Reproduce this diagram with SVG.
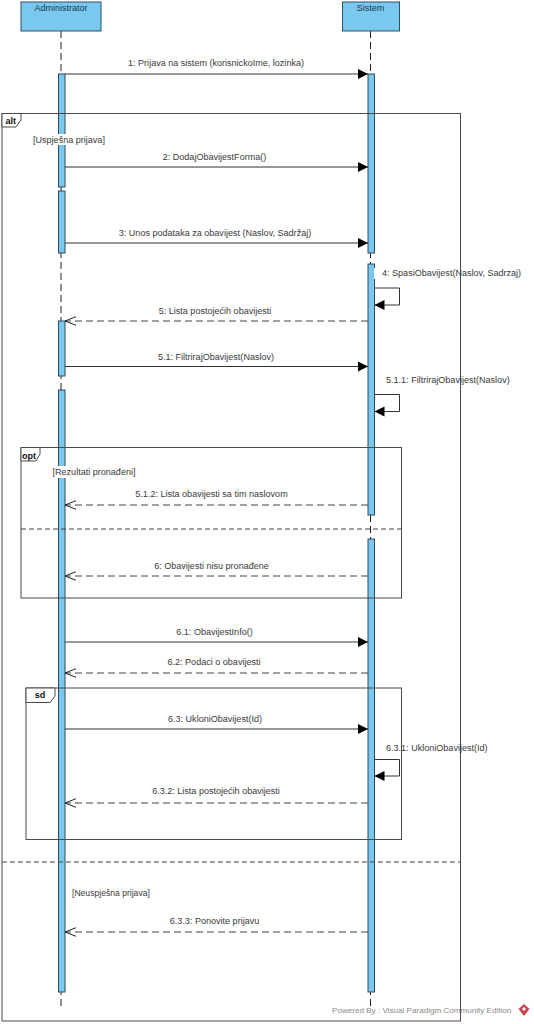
<svg xmlns="http://www.w3.org/2000/svg" width="534" height="1024" viewBox="0 0 534 1024">
<defs>
<marker id="solid" markerUnits="userSpaceOnUse" markerWidth="11" markerHeight="11" refX="10" refY="5.5" orient="auto"><path d="M0 0.500L10 5.500L0 10.500Z" fill="#000"/></marker>
<marker id="open" markerUnits="userSpaceOnUse" markerWidth="12" markerHeight="12" refX="11" refY="6" orient="auto"><path d="M0 1.700L11 6L0 10.300" fill="none" stroke="#222" stroke-width="1"/></marker>
</defs>
<style>
text{font-family:"Liberation Sans",Arial,sans-serif;font-size:9.05px;fill:#3a3a3a}
.c{text-anchor:middle}
.head{fill:#7ac8ee;stroke:#2c5068;stroke-width:1}
.act{fill:#7ac8ee;stroke:#2c4a60;stroke-width:1}
.life{stroke:#222;stroke-width:1;stroke-dasharray:7 4;fill:none}
.frame{fill:none;stroke:#4a4a4a;stroke-width:1}
.tab{fill:#fff;stroke:#4a4a4a;stroke-width:1}
.sep{stroke:#444;stroke-width:1;stroke-dasharray:5 3;fill:none}
.msg{stroke:#333;stroke-width:1;fill:none;marker-end:url(#solid)}
.ret{stroke:#444;stroke-width:1;stroke-dasharray:7 4;fill:none;marker-end:url(#open)}
.bg{fill:#fff}
.ft{font-weight:bold;fill:#111}
.name{fill:#16394f;font-size:9px}
.wm{fill:#8a8a8a;font-size:8.1px}
.small{font-size:8.6px}
</style>
<g id="lifelines">
<line class="life" x1="61" y1="31" x2="61" y2="1010"/>
<line class="life" x1="370.5" y1="31" x2="370.5" y2="1010"/>
</g>
<g id="node-administrator"><rect class="head" x="21" y="2" width="80" height="29"/><text class="c name" x="61" y="11">Administrator</text></g>
<g id="node-sistem"><rect class="head" x="342.5" y="2" width="57" height="29"/><text class="c name" x="370.5" y="11">Sistem</text></g>
<g id="activations">
<rect class="act" x="58.5" y="74" width="6.5" height="113"/>
<rect class="act" x="58.5" y="191" width="6.5" height="62"/>
<rect class="act" x="58.5" y="321" width="6.5" height="55"/>
<rect class="act" x="58.5" y="390" width="6.5" height="602"/>
<rect class="act" x="368" y="74" width="6.5" height="179"/>
<rect class="act" x="368" y="264" width="6.5" height="251"/>
<rect class="act" x="368" y="539" width="6.5" height="453"/>
</g>
<g id="frame-alt">
<rect class="frame" x="2" y="113.5" width="458.5" height="907.5"/>
<path class="tab" d="M2 113.5H21V120L16 127H2Z"/>
<text class="ft" x="5.500" y="124">alt</text>
<line class="sep" x1="2" y1="862" x2="460" y2="862"/>
<rect class="bg" x="33" y="134" width="73" height="11"/>
<text x="33" y="143">[Uspješna prijava]</text>
<rect class="bg" x="71" y="888" width="80" height="10"/>
<text class="small" x="72" y="896">[Neuspješna prijava]</text>
</g>
<g id="frame-opt">
<rect class="frame" x="21" y="447.500" width="380.500" height="150.500"/>
<path class="tab" d="M21 447.500H40V454L36 461H21Z"/>
<text class="ft" x="22" y="459">opt</text>
<line class="sep" x1="21" y1="529" x2="401" y2="529"/>
<rect class="bg" x="52" y="466" width="84" height="12"/>
<text x="52.500" y="475">[Rezultati pronađeni]</text>
</g>
<g id="frame-sd">
<rect class="frame" x="26" y="688" width="375.500" height="151.500"/>
<path class="tab" d="M26 688H55V696L50 702.500H26Z"/>
<text class="ft c" x="40" y="698">sd</text>
</g>
<g id="connectors">
<line class="msg" x1="65" y1="74" x2="368" y2="74"/>
<line class="msg" x1="65" y1="167" x2="368" y2="167"/>
<line class="msg" x1="65" y1="243" x2="368" y2="243"/>
<path class="msg" d="M374.500 288H399.500V305H374.500"/>
<line class="ret" x1="368" y1="321" x2="65" y2="321"/>
<line class="msg" x1="65" y1="366.500" x2="368" y2="366.500"/>
<path class="msg" d="M374.500 394.500H399.500V411.500H374.500"/>
<line class="ret" x1="368" y1="505" x2="65" y2="505"/>
<line class="ret" x1="368" y1="576" x2="65" y2="576"/>
<line class="msg" x1="65" y1="642" x2="368" y2="642"/>
<line class="ret" x1="368" y1="673" x2="65" y2="673"/>
<line class="msg" x1="65" y1="729" x2="368" y2="729"/>
<path class="msg" d="M374.500 759.500H399.500V776H374.500"/>
<line class="ret" x1="368" y1="803" x2="65" y2="803"/>
<line class="ret" x1="368" y1="932" x2="65" y2="932"/>
</g>
<g id="labels">
<text class="c" x="216" y="66">1: Prijava na sistem (korisnickoIme, lozinka)</text>
<text class="c" x="214.500" y="160">2: DodajObavijestForma()</text>
<text class="c" x="215" y="236">3: Unos podataka za obavijest (Naslov, Sadržaj)</text>
<rect class="bg" x="374" y="268" width="20" height="11"/>
<text x="382" y="276">4: SpasiObavijest(Naslov, Sadrzaj)</text>
<text class="c" x="215" y="314">5: Lista postojećih obavijesti</text>
<text class="c" x="216" y="360">5.1: FiltrirajObavijest(Naslov)</text>
<text x="386" y="383">5.1.1: FiltrirajObavijest(Naslov)</text>
<text class="c" x="211.500" y="497">5.1.2: Lista obavijesti sa tim naslovom</text>
<text class="c" x="211.500" y="569">6: Obavijesti nisu pronađene</text>
<text class="c" x="214.500" y="635">6.1: ObavijestInfo()</text>
<text class="c" x="214" y="665">6.2: Podaci o obavijesti</text>
<text class="c" x="215" y="722">6.3: UkloniObavijest(Id)</text>
<text x="386" y="751">6.3.1: UkloniObavijest(Id)</text>
<text class="c" x="216" y="794">6.3.2: Lista postojećih obavijesti</text>
<text class="c" x="214.500" y="924">6.3.3: Ponovite prijavu</text>
</g>
<g id="watermark">
<text class="wm" x="332" y="1013">Powered By : Visual Paradigm Community Edition</text>
<path d="M524 1004L529.500 1009L524 1016L518.500 1009Z" fill="#c8454a"/>
<path d="M524 1007L526 1009L524 1011L522 1009Z" fill="#fff"/>
</g>
</svg>
